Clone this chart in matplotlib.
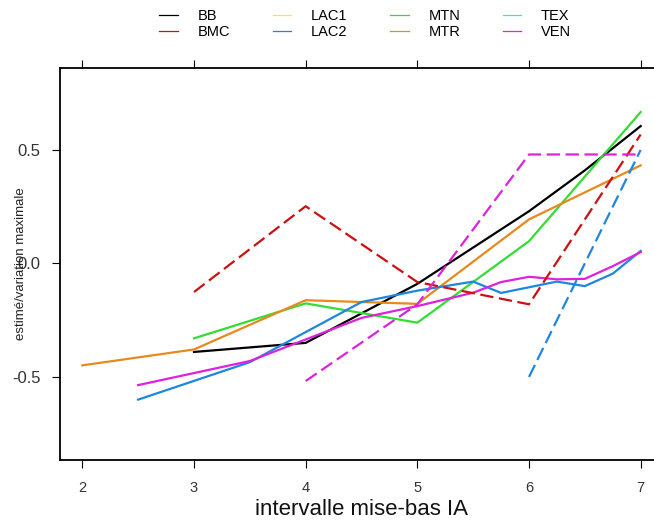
import numpy as np
import matplotlib
matplotlib.use("Agg")
import matplotlib.pyplot as plt
from matplotlib.lines import Line2D

plt.rcParams['font.family'] = ['Liberation Sans', 'DejaVu Sans']

# groups and colours
groups = ['BB', 'BMC', 'LAC1', 'LAC2', 'MTN', 'MTR', 'TEX', 'VEN']
colors = ['#000000', '#CC1010', '#F0F020', '#1E86E0', '#33DD33', '#E8891E', '#40E0E0', '#DD22DD']

# solid curves
bb_x = [3, 4, 4.5, 5, 5.5, 6, 6.5, 7]
bb_y = [-0.39, -0.35, -0.22, -0.09, 0.07, 0.23, 0.41, 0.605]

lac2_x = [2.5, 3.5, 4.5, 5, 5.5, 5.75, 6, 6.25, 6.5, 6.75, 7]
lac2_y = [-0.60, -0.435, -0.17, -0.12, -0.08, -0.13, -0.105, -0.08, -0.10, -0.045, 0.055]

mtn_x = [3, 4, 5, 6, 7]
mtn_y = [-0.33, -0.176, -0.261, 0.098, 0.667]

mtr_x = [2, 3, 4, 4.25, 5, 6, 7]
mtr_y = [-0.449, -0.379, -0.162, -0.166, -0.178, 0.194, 0.432]

ven_x = [2.5, 3.5, 4, 4.5, 5, 5.5, 5.75, 6, 6.25, 6.5, 6.75, 7]
ven_y = [-0.536, -0.43, -0.335, -0.24, -0.188, -0.129, -0.082, -0.059, -0.07, -0.068, -0.012, 0.05]

# dashed curves
bmc_x = [3, 4, 5, 6, 7]
bmc_y = [-0.126, 0.252, -0.082, -0.18, 0.568]

lac2d_x = [6, 7]
lac2d_y = [-0.50, 0.50]

vend_x = [4, 5, 6, 7]
vend_y = [-0.518, -0.18, 0.48, 0.48]

xticks = [2, 3, 4, 5, 6, 7]
yticks = [-0.5, 0.0, 0.5]

fig = plt.figure(figsize=(6.54, 5.27), dpi=100)
ax = fig.add_axes([60/654, 1-460/527, 603/654, 392/527])

lw = 1.6
ds = (6, 2.5)
ax.plot(bb_x, bb_y, color=colors[0], lw=lw)
ax.plot(mtn_x, mtn_y, color=colors[4], lw=lw)
ax.plot(mtr_x, mtr_y, color=colors[5], lw=lw)
ax.plot(lac2_x, lac2_y, color=colors[3], lw=lw)
ax.plot(ven_x, ven_y, color=colors[7], lw=lw)
ax.plot(bmc_x, bmc_y, color=colors[1], lw=lw, dashes=ds)
ax.plot(lac2d_x, lac2d_y, color=colors[3], lw=lw, dashes=ds)
ax.plot(vend_x, vend_y, color=colors[7], lw=lw, dashes=ds)

ax.set_xlim(1.8, 7.2)
ax.set_ylim(-0.866, 0.861)
ax.set_xticks(xticks)
ax.set_xticklabels([str(t) for t in xticks])
ax.set_yticks(yticks)
ax.set_yticklabels(['-0.5', '0.0', '0.5'])
ax.tick_params(axis='x', direction='out', top=True, bottom=True, length=6,
               labelsize=10.5, colors='black', labelcolor='#333333', pad=9)
ax.tick_params(axis='y', direction='out', left=True, right=False, length=6,
               labelsize=12, labelcolor='#333333', pad=8)
for s in ax.spines.values():
    s.set_linewidth(1.3)

ax.set_xlabel('intervalle mise-bas IA', fontsize=16, color='#111111', labelpad=3)
ax.set_ylabel('estimé/variation maximale', fontsize=9.5, color='#222222', labelpad=-11)

handles = [Line2D([0], [0], color=c, lw=0.9) for c in colors]
fig.legend(handles, groups, ncol=4, loc='upper left', bbox_to_anchor=(150/654, 1.0),
           frameon=False, fontsize=10.5, handlelength=1.25, handletextpad=1.35,
           columnspacing=2.95, labelspacing=0.12, borderaxespad=0.25)

fig.savefig('out.png', dpi=100)
